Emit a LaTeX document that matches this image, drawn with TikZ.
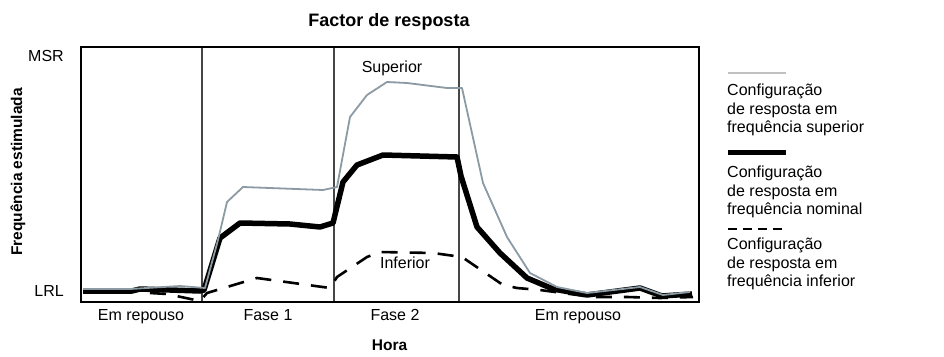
\documentclass[tikz,border=0pt]{standalone}
\usepackage{fontspec}
\setmainfont{Liberation Sans}
\usetikzlibrary{positioning,calc}

\definecolor{supgrey}{RGB}{140,154,164}
\definecolor{leggrey}{RGB}{192,192,192}
\definecolor{divgrey}{RGB}{70,70,70}

\begin{document}
\begin{tikzpicture}[x=1pt, y=-1pt]
	\useasboundingbox (0,0) rectangle (944,356);
	\begin{scope}
		\tikzstyle{every node}=[align=center, inner sep=0pt, font=\fontsize{16}{18.3}\selectfont]
		\tikzstyle{bold}=[font=\fontsize{15.5}{18}\selectfont\bfseries]
		\tikzstyle{nominal}=[black, line width=5.5pt, line join=round]
		\tikzstyle{superior}=[supgrey, line width=1.8pt, line join=round]
		\tikzstyle{inferior}=[black, line width=2.6pt, dash pattern=on 16pt off 12pt]

		% frame and phases
		\coordinate (tl) at (81,47);
		\coordinate (br) at (699,302);
		\foreach \x [count=\i] in {202,334,459} {
			\coordinate (dt\i) at (\x,47);
			\coordinate (db\i) at (\x,302);
			\draw [divgrey, line width=1.2pt] (dt\i) -- (db\i);
		}

		% curves
		\draw [nominal] plot coordinates {(83,291) (132,291) (140,289) (200,291) (204,290)
			(220,238) (240,223) (290,224) (320,227) (333,223) (343,182) (357,165) (383,155)
			(457,157) (461,176) (477,227) (500,253) (527,278) (553,289) (587,295) (640,288)
			(662,296) (692,294)};
		\draw [superior] plot coordinates {(83,289) (130,289) (180,286) (205,288) (218,240)
			(227,202) (243,187) (323,190) (337,187) (350,117) (367,95) (387,82) (407,83)
			(447,88) (462,88) (483,183) (507,237) (530,273) (557,287) (587,293) (640,287)
			(663,295) (690,292)};
		\draw [inferior] plot coordinates {(150,293) (167,294) (200,301) (207,293) (257,278)
			(330,288) (337,277) (367,257) (380,252) (433,253) (462,257) (503,285) (517,288)
			(540,290) (593,297) (627,297) (660,298) (693,297)};

		\draw [black, line width=2.6pt] (tl) rectangle (br);

		% labels
		\node [font=\fontsize{18}{20}\selectfont\bfseries, anchor=base] (title) at (389,27) {Factor de resposta};
		\node [anchor=base east] (msr) at (64,61) {MSR};
		\node [anchor=base east] (lrl) at (64,296.5) {LRL};
		\node [bold, rotate=90] (freq) at (18,172) {Frequência estimulada};
		\node [anchor=base] (sup) at (392,72.5) {Superior};
		\node [anchor=base] (inf) at (405,268.5) {Inferior};

		\node [anchor=base] (rep1) at (141,320.5) {Em repouso};
		\node [anchor=base] (fase1) at (268,320.5) {Fase 1};
		\node [anchor=base] (fase2) at (395,320.5) {Fase 2};
		\node [anchor=base] (rep2) at (578,320.5) {Em repouso};
		\node [bold, anchor=base] (hora) at (389.5,350) {Hora};

		% legend
		\node [anchor=north west, align=left] (legsup) at (727,84) {Configuração\\de resposta em\\frequência superior};
		\node [anchor=north west, align=left] (legnom) at (727,166) {Configuração\\de resposta em\\frequência nominal};
		\node [anchor=north west, align=left] (leginf) at (727,238) {Configuração\\de resposta em\\frequência inferior};
		\draw [leggrey, line width=2.4pt] ($(legsup.north west)+(1,-11)$) -- ++(58,0);
		\draw [black, line width=5pt] ($(legnom.north west)+(1,-13.5)$) -- ++(58,0);
		\draw [black, line width=2.6pt, dash pattern=on 9pt off 6pt] ($(leginf.north west)+(1,-9)$) -- ++(56,0);
	\end{scope}
\end{tikzpicture}
\end{document}
